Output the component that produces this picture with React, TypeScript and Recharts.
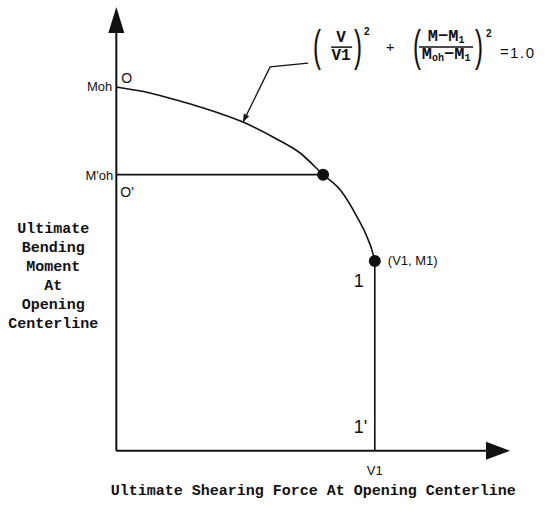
import { ComposedChart, Line, XAxis, YAxis, Scatter, ReferenceDot } from 'recharts';

// V/M interaction curve (V in units where V1 = 10)
const curveV = [0, 1.3, 2.46, 3.24, 4.9, 6.06, 7.11, 8.0, 8.69, 9.31, 9.7, 9.89, 10];
const curveM = [14.12, 13.89, 13.58, 13.35, 12.76, 12.18, 11.56, 10.72, 10.09, 9.08, 8.3, 7.79, 7.37];

const V1 = 10;
const M1 = 7.37;
const MOH = 14.12;
const MOH_PRIME = 10.72;
const V_AT_MOH_PRIME = 8.0;
const V_MAX = 15.23;
const M_MAX = 17.23;

// leader from the formula down to the curve
const leaderV = [4.9, 5.95, 7.42];
const leaderM = [12.76, 14.9, 15.05];

const yTitleLines = ['Ultimate', 'Bending', 'Moment', 'At', 'Opening', 'Centerline'];
const xTitle = 'Ultimate Shearing Force At Opening Centerline';

const INK = '#111';
const SANS = '"Liberation Sans", Arial, sans-serif';
const MONO = '"Liberation Mono", "Courier New", monospace';

const toPoints = (vs: number[], ms: number[]) => vs.map((v, i) => ({ v, m: ms[i] }));

const curve = toPoints(curveV, curveM);
const leader = toPoints(leaderV, leaderM);
const xAxisLine = toPoints([0, V_MAX - 0.5], [0, 0]);
const yAxisLine = toPoints([0, 0], [0, M_MAX - 0.5]);
const mohPrimeLine = toPoints([0, V_AT_MOH_PRIME], [MOH_PRIME, MOH_PRIME]);
const v1Line = toPoints([V1, V1], [M1, 0]);
const keyPoints = toPoints([V_AT_MOH_PRIME, V1], [MOH_PRIME, M1]);

function arrowHead(angle: number, len: number, half: number) {
  return (p: any) => (
    <polygon
      points={`0,0 ${-len},${-half} ${-len},${half}`}
      transform={`translate(${p.cx},${p.cy}) rotate(${angle})`}
      fill={INK}
    />
  );
}

function label(text: string, dx: number, dy: number, opts: { size?: number; anchor?: string; family?: string; weight?: string } = {}) {
  return (p: any) => (
    <text
      x={p.cx + dx}
      y={p.cy + dy}
      fontSize={opts.size ?? 13}
      fontFamily={opts.family ?? SANS}
      fontWeight={opts.weight ?? 'normal'}
      textAnchor={opts.anchor ?? 'start'}
      fill={INK}
    >
      {text}
    </text>
  );
}

function Paren({ x, y, ch }: { x: number; y: number; ch: string }) {
  return (
    <text transform={`translate(${x},${y}) scale(1,1.85)`} fontSize={24} fontFamily={SANS} fill={INK}>
      {ch}
    </text>
  );
}

function Formula(p: any) {
  const { cx, cy } = p;
  const t = { fontFamily: MONO, fontWeight: 'bold', fill: INK } as const;
  return (
    <g transform={`translate(${cx},${cy})`}>
      <Paren x={5} y={-2.6} ch="(" />
      <text x={33} y={-21} fontSize={16} textAnchor="middle" {...t}>V</text>
      <line x1={23} x2={44} y1={-16} y2={-16} stroke={INK} strokeWidth={1.5} />
      <text x={33} y={-3} fontSize={16} textAnchor="middle" {...t}>V1</text>
      <Paren x={46} y={-2.6} ch=")" />
      <text x={56} y={-28} fontSize={10} fontFamily={SANS} fontWeight="bold" fill={INK}>2</text>
      <text x={82} y={-11} fontSize={15} fontFamily={SANS} textAnchor="middle" fill={INK}>+</text>
      <Paren x={105} y={-2.6} ch="(" />
      <text x={138} y={-22} fontSize={17} textAnchor="middle" {...t}>
        M−M<tspan fontSize={10} dy={2}>1</tspan>
      </text>
      <line x1={111} x2={165} y1={-16} y2={-16} stroke={INK} strokeWidth={1.5} />
      <text x={138} y={-4} fontSize={17} textAnchor="middle" {...t}>
        M<tspan fontSize={10} dy={2}>oh</tspan>
        <tspan dy={-2}>−M</tspan>
        <tspan fontSize={10} dy={2}>1</tspan>
      </text>
      <Paren x={167} y={-2.6} ch=")" />
      <text x={178} y={-26} fontSize={10} fontFamily={SANS} fontWeight="bold" fill={INK}>2</text>
      <text x={192} y={-6} fontSize={15} fontFamily={SANS} fill={INK}>=</text>
      <text x={202} y={-5} fontSize={15} fontFamily={SANS} letterSpacing={1.5} fill={INK}>1.0</text>
    </g>
  );
}

function YTitle(p: any) {
  return (
    <g>
      {yTitleLines.map((line, i) => (
        <text
          key={line}
          x={p.cx - 63}
          y={p.cy - 218 + i * 19}
          fontSize={15}
          fontFamily={MONO}
          fontWeight="bold"
          textAnchor="middle"
          fill={INK}
        >
          {line}
        </text>
      ))}
    </g>
  );
}

export default function App() {
  return (
    <div style={{ position: 'absolute', left: 0, top: 0, width: 548, height: 510, background: '#fff' }}>
      <ComposedChart width={548} height={510} margin={{ top: 0, right: 0, bottom: 0, left: 0 }}>
        <XAxis type="number" dataKey="v" domain={[-4.5, 16.7]} hide allowDataOverflow />
        <YAxis type="number" dataKey="m" domain={[-2.3, 17.5]} hide allowDataOverflow />

        <Line data={xAxisLine} dataKey="m" stroke={INK} strokeWidth={2} dot={false} activeDot={false} isAnimationActive={false} />
        <Line data={yAxisLine} dataKey="m" stroke={INK} strokeWidth={2} dot={false} activeDot={false} isAnimationActive={false} />
        <Line data={mohPrimeLine} dataKey="m" stroke={INK} strokeWidth={1.6} dot={false} activeDot={false} isAnimationActive={false} />
        <Line data={v1Line} dataKey="m" stroke={INK} strokeWidth={1.6} dot={false} activeDot={false} isAnimationActive={false} />
        <Line data={curve} dataKey="m" type="monotone" stroke={INK} strokeWidth={1.6} dot={false} activeDot={false} isAnimationActive={false} />
        <Line data={leader} dataKey="m" stroke={INK} strokeWidth={1.3} dot={false} activeDot={false} isAnimationActive={false} />

        <Scatter
          data={keyPoints}
          isAnimationActive={false}
          shape={(p: any) => <circle cx={p.cx} cy={p.cy} r={6} fill={INK} />}
        />

        <ReferenceDot x={V_MAX} y={0} r={0} shape={arrowHead(0, 24, 9)} />
        <ReferenceDot x={0} y={M_MAX} r={0} shape={arrowHead(-90, 26, 8)} />
        <ReferenceDot x={leaderV[0]} y={leaderM[0]} r={0} shape={arrowHead(116, 8, 3)} />

        <ReferenceDot x={0} y={MOH} r={0} shape={label('Moh', -4, 4, { anchor: 'end' })} />
        <ReferenceDot x={0} y={MOH} r={0} shape={label('O', 5, -4, { size: 14 })} />
        <ReferenceDot x={0} y={MOH_PRIME} r={0} shape={label("M'oh", -3, 5.5, { anchor: 'end' })} />
        <ReferenceDot x={0} y={MOH_PRIME} r={0} shape={label("O'", 4, 22, { size: 14 })} />
        <ReferenceDot x={V1} y={M1} r={0} shape={label('(V1, M1)', 13, 4.5)} />
        <ReferenceDot x={V1} y={M1} r={0} shape={label('1', -16, 26, { size: 18, anchor: 'middle' })} />
        <ReferenceDot x={V1} y={0} r={0} shape={label("1'", -21, -18, { size: 18 })} />
        <ReferenceDot x={V1} y={0} r={0} shape={label('V1', 0, 24, { anchor: 'middle' })} />
        <ReferenceDot x={0} y={0} r={0} shape={label(xTitle, 197, 44, { size: 15, family: MONO, weight: 'bold', anchor: 'middle' })} />
        <ReferenceDot x={0} y={0} r={0} shape={YTitle} />
        <ReferenceDot x={leaderV[2]} y={leaderM[2]} r={0} shape={Formula} />
      </ComposedChart>
    </div>
  );
}
